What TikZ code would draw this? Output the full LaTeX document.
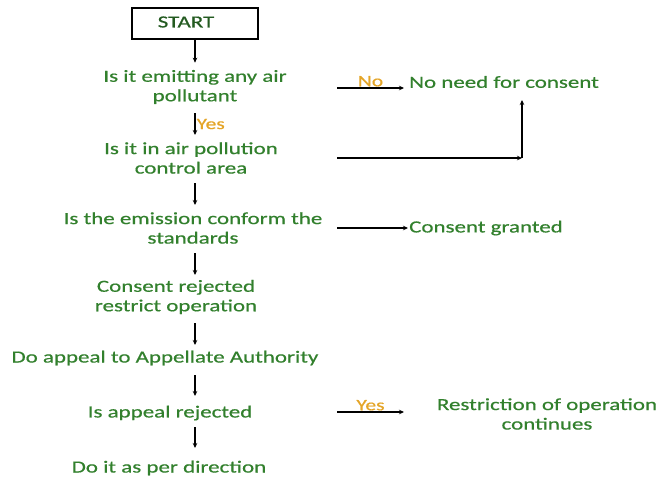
\documentclass[tikz,border=0pt]{standalone}
\usepackage{fontspec}
\setmainfont{Carlito}[FakeStretch=1.35,FakeBold=0.6]
\usetikzlibrary{arrows.meta}
\definecolor{stepgreen}{RGB}{50,128,45}
\definecolor{answer}{RGB}{228,165,40}
\begin{document}
\begin{tikzpicture}[x=1pt,y=-1pt]
	\tikzset{every node/.style={font=\fontsize{17}{19.5}\selectfont,text=stepgreen,align=center,inner sep=1pt}}
	\tikzset{flow/.style={-{Stealth[length=5pt,width=4.5pt]},line width=1.2pt}}
	\tikzset{answer/.style={text=answer,font=\fontsize{16}{18}\selectfont}}
	\useasboundingbox (0,0) rectangle (659,479);
	% main column
	\node[draw,line width=1.4pt,minimum width=126pt,minimum height=31pt] (start) at (195,23.5) {};
	\node[text=stepgreen!70!black] (starttext) at (186,22) {START};
	\node (emit) at (195,87) {Is it emitting any air\\pollutant};
	\node (area) at (191,158) {Is it in air pollution\\control area};
	\node (std) at (193,228) {Is the emission conform the\\standards};
	\node (rej) at (176,297) {Consent rejected\\restrict operation};
	\node (appeal) at (165,358) {Do appeal to Appellate Authority};
	\node (isrej) at (170,413) {Is appeal rejected};
	\node (per) at (169,468) {Do it as per direction};
	% right column
	\node[anchor=west] (noneed) at (408,82) {No need for consent};
	\node[anchor=west] (granted) at (408,228) {Consent granted};
	\node (cont) at (547,414) {Restriction of operation\\continues};
	\coordinate (corner) at (522,158);
	% arrows down
	\draw[flow] (start.south) -- ++(0,23);
	\draw[flow] (195,113) -- (195,135) node[midway,right,answer] {Yes};
	\draw[flow] (195,183) -- (195,205);
	\draw[flow] (195,253) -- (195,275);
	\draw[flow] (195,323) -- (195,345);
	\draw[flow] (195,375) -- (195,396);
	\draw[flow] (195,427) -- (195,448);
	% arrows right
	\draw[flow] (337,88) -- (404,88) node[midway,above,answer] {No};
	\draw[flow] (337,158) -- (corner);
	\draw[flow] (corner) -- (522,100);
	\draw[flow] (337,228) -- (granted.west);
	\draw[flow] (337,412) -- (404,412) node[midway,above,answer] {Yes};
\end{tikzpicture}
\end{document}
